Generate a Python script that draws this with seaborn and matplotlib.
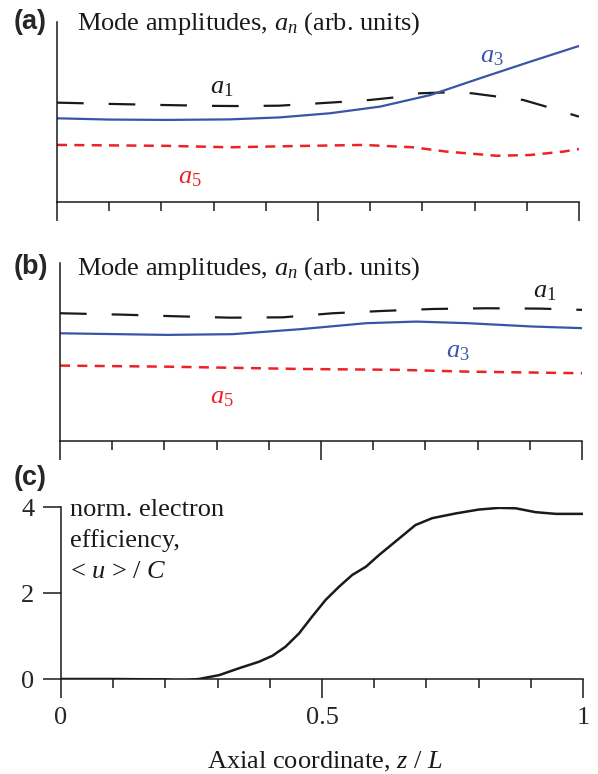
import numpy as np
import pandas as pd
import matplotlib
matplotlib.use("Agg")
import matplotlib.pyplot as plt
import seaborn as sns

# ---------------- data ----------------
# panel (a)
a_z_a1 = [0, 0.1, 0.2, 0.3, 0.35, 0.425, 0.5, 0.55, 0.6, 0.65, 0.695, 0.747, 0.795,
          0.845, 0.893, 0.944, 1.0]
a_a1 = [5.52, 5.45, 5.39, 5.34, 5.33, 5.35, 5.48, 5.57, 5.67, 5.82, 6.04, 6.09, 6.04,
        5.85, 5.67, 5.24, 4.74]
a_z_a3 = [0, 0.1, 0.21, 0.331, 0.427, 0.523, 0.619, 0.715, 0.81, 0.906, 1.0]
a_a3 = [4.65, 4.58, 4.56, 4.59, 4.70, 4.93, 5.30, 5.94, 6.87, 7.79, 8.67]
a_z_a5 = [0, 0.21, 0.331, 0.459, 0.587, 0.682, 0.746, 0.842, 0.906, 0.97, 1.0]
a_a5 = [3.17, 3.12, 3.04, 3.11, 3.17, 3.04, 2.80, 2.57, 2.61, 2.80, 2.94]

# panel (b)
b_z_a1 = [0, 0.12, 0.22, 0.326, 0.427, 0.523, 0.619, 0.715, 0.817, 0.92, 1.0]
b_a1 = [7.17, 7.09, 7.00, 6.92, 6.94, 7.17, 7.30, 7.41, 7.45, 7.43, 7.36]
b_z_a3 = [0, 0.204, 0.33, 0.46, 0.587, 0.683, 0.78, 0.906, 1.0]
b_a3 = [6.04, 5.95, 5.99, 6.27, 6.61, 6.70, 6.61, 6.42, 6.33]
b_z_a5 = [0, 0.204, 0.46, 0.65, 0.78, 1.0]
b_a5 = [4.22, 4.16, 4.03, 3.98, 3.88, 3.79]

# panel (c)
c_z = [0, 0.1, 0.2, 0.226, 0.264, 0.303, 0.341, 0.379, 0.405, 0.43, 0.456, 0.481,
       0.507, 0.533, 0.558, 0.584, 0.609, 0.657, 0.679, 0.711, 0.756, 0.8, 0.839,
       0.871, 0.909, 0.948, 1.0]
c_u = [0, 0, -0.01, -0.04, 0, 0.09, 0.25, 0.40, 0.54, 0.75, 1.06, 1.45,
       1.84, 2.15, 2.42, 2.61, 2.88, 3.36, 3.58, 3.74, 3.85, 3.94, 3.98,
       3.97, 3.88, 3.84, 3.84]

x_major = [0, 0.5, 1]
x_major_labels = ["0", "0.5", "1"]
x_minor = [0.1, 0.2, 0.3, 0.4, 0.6, 0.7, 0.8, 0.9]
c_yticks = [0, 2, 4]

title_text = "Mode amplitudes, $a_n$ (arb. units)"
c_text = ["norm. electron", "efficiency,", "< $u$ > / $C$"]
xlabel_text = "Axial coordinate, $z$ / $L$"

# ---------------- style ----------------
sns.set_theme(style="ticks")
plt.rcParams["font.family"] = ["Liberation Serif", "DejaVu Serif"]
plt.rcParams["mathtext.fontset"] = "custom"
plt.rcParams["mathtext.rm"] = "Liberation Serif"
plt.rcParams["mathtext.it"] = "Liberation Serif:italic"
plt.rcParams["lines.scale_dashes"] = False
plt.rcParams["lines.solid_joinstyle"] = "round"

W, H = 598, 774
fig = plt.figure(figsize=(W / 100, H / 100), dpi=100)

def fx(x):
    return x / W

def fy(y):
    return 1 - y / H

def make_ax(left, right, top, bottom):
    return fig.add_axes([fx(left), fy(bottom), fx(right) - fx(left), (bottom - top) / H])

BLACK = "#1a1a1a"
BLUE = "#3a55a5"
RED = "#ec2227"
FS = 19
LAB_FS = 19.5

black_dash = (0, (19.2, 18.0))
red_dash = (0, (7.2, 5.3))

def style_x(ax):
    sns.despine(ax=ax)
    ax.set_xlim(0, 1)
    ax.set_xticks(x_major)
    ax.set_xticks(x_minor, minor=True)
    ax.tick_params(axis="x", which="major", direction="out", length=13.5, width=1.1, color=BLACK)
    ax.tick_params(axis="x", which="minor", direction="out", length=6.5, width=1.1, color=BLACK)
    for s in ("left", "bottom"):
        ax.spines[s].set_linewidth(1.1)
        ax.spines[s].set_color(BLACK)

# ---------------- panel (a) ----------------
axa = make_ax(57, 579, 22, 202)
sns.lineplot(x=a_z_a1, y=a_a1, ax=axa, color=BLACK, lw=1.6, linestyle=black_dash)
sns.lineplot(x=a_z_a3, y=a_a3, ax=axa, color=BLUE, lw=1.6)
sns.lineplot(x=a_z_a5, y=a_a5, ax=axa, color=RED, lw=1.8, linestyle=red_dash)
axa.set_ylim(0, 10)
axa.set_yticks([])
style_x(axa)
axa.set_xticklabels([])

# ---------------- panel (b) ----------------
axb = make_ax(60, 582, 263, 440.5)
sns.lineplot(x=b_z_a1, y=b_a1, ax=axb, color=BLACK, lw=1.6, linestyle=black_dash)
sns.lineplot(x=b_z_a3, y=b_a3, ax=axb, color=BLUE, lw=1.6)
sns.lineplot(x=b_z_a5, y=b_a5, ax=axb, color=RED, lw=1.8, linestyle=red_dash)
axb.set_ylim(0, 10)
axb.set_yticks([])
style_x(axb)
axb.set_xticklabels([])

# ---------------- panel (c) ----------------
axc = make_ax(61, 583, 507, 679)
sns.lineplot(x=c_z, y=c_u, ax=axc, color=BLACK, lw=1.8)
axc.set_ylim(0, 4)
style_x(axc)
axc.set_yticks(c_yticks)
axc.set_yticklabels([str(v) for v in c_yticks], fontsize=FS)
axc.tick_params(axis="y", direction="out", length=13, width=1.1, pad=6, color=BLACK)
axc.set_xticklabels(x_major_labels, fontsize=FS)
axc.tick_params(axis="x", which="major", pad=7)
axc.set_xlabel("")
for ax in (axa, axb, axc):
    ax.set_ylabel("")

# ---------------- texts ----------------
bold = dict(family=["Liberation Sans", "DejaVu Sans"], weight="bold", fontsize=LAB_FS)
fig.text(fx(14), fy(22), "(a)", ha="left", va="center", **bold)
fig.text(fx(14), fy(267), "(b)", ha="left", va="center", **bold)
fig.text(fx(14), fy(478), "(c)", ha="left", va="center", **bold)

fig.text(fx(77), fy(29.5), title_text, ha="left", va="baseline", fontsize=FS, color=BLACK)
fig.text(fx(77), fy(274.3), title_text, ha="left", va="baseline", fontsize=FS, color=BLACK)

# curve labels
fig.text(fx(222), fy(88), "$a_1$", ha="center", va="center", fontsize=FS, color=BLACK)
fig.text(fx(492), fy(57), "$a_3$", ha="center", va="center", fontsize=FS, color=BLUE)
fig.text(fx(190), fy(178), "$a_5$", ha="center", va="center", fontsize=FS, color=RED)
fig.text(fx(545), fy(292), "$a_1$", ha="center", va="center", fontsize=FS, color=BLACK)
fig.text(fx(458), fy(352), "$a_3$", ha="center", va="center", fontsize=FS, color=BLUE)
fig.text(fx(222), fy(398), "$a_5$", ha="center", va="center", fontsize=FS, color=RED)

for i, line in enumerate(c_text):
    fig.text(fx(70), fy(516 + 31 * i), line, ha="left", va="baseline", fontsize=FS, color=BLACK)

fig.text(fx(325), fy(768), xlabel_text, ha="center", va="baseline", fontsize=FS, color=BLACK)

fig.savefig("out.png", dpi=100, facecolor="white")
